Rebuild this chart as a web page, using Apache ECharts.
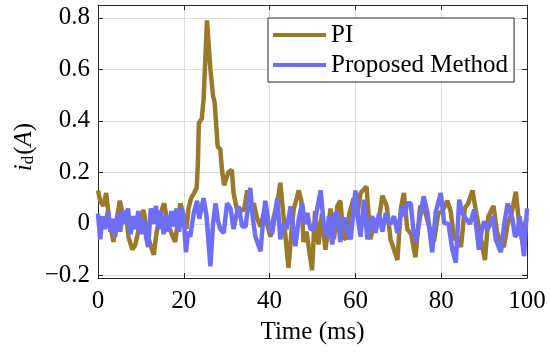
<!DOCTYPE html>
<html>
<head>
<meta charset="utf-8">
<script src="https://cdn.jsdelivr.net/npm/echarts@6/dist/echarts.min.js"></script>
<style>
html,body{margin:0;padding:0;background:#fff;}
#chart{width:550px;height:352px;}
</style>
</head>
<body>
<div id="chart"></div>
<script>
// ---- data (time in ms, current in A) ----
const seriesNames = ['PI', 'Proposed Method'];
const xTicks = [0, 20, 40, 60, 80, 100];
const yTicks = [-0.2, 0, 0.2, 0.4, 0.6, 0.8];

const piData = [
[0,0.13],[0.5,0.09],[1.2,0.07],[1.9,0.12],[2.6,0.02],[3.6,-0.07],[4.3,0.01],[5.1,0.09],[5.8,0.03],[6.5,0.05],
[7.1,-0.05],[8.0,-0.10],[8.7,-0.08],[9.5,-0.02],[10.6,0.055],[11.3,-0.02],[12.0,-0.07],[13.0,-0.12],[13.6,-0.04],[14.4,0.03],
[15.4,0.08],[16.3,0.0],[17.2,-0.04],[18.0,-0.07],[18.6,0.01],[19.2,0.08],[20.0,0.03],[20.6,-0.02],[21.1,0.06],[21.7,0.10],
[22.4,0.12],[23.0,0.14],[23.3,0.24],[23.5,0.39],[24.2,0.41],[24.6,0.48],[25.4,0.79],[26.2,0.60],[26.8,0.50],[27.2,0.47],
[27.9,0.30],[28.5,0.29],[28.9,0.21],[29.4,0.15],[29.8,0.17],[30.4,0.20],[31.2,0.21],[31.6,0.12],[32.2,0.07],[32.8,0.03],
[33.5,0.06],[34.0,0.05],[34.8,0.13],[35.6,0.06],[36.3,0.08],[37.1,0.02],[37.9,-0.01],[38.6,0.04],[39.4,0.0],[40.2,-0.05],
[41.0,0.03],[41.8,0.08],[42.5,0.16],[43.3,0.02],[44.4,-0.17],[45.0,-0.05],[45.6,0.055],[46.8,0.13],[47.4,0.09],[47.9,-0.07],
[48.6,-0.03],[49.2,-0.10],[49.9,-0.18],[50.6,0.05],[51.4,-0.08],[52.2,0.04],[53.0,-0.10],[53.5,-0.04],[54.2,0.06],[55.0,-0.06],
[55.8,0.07],[56.5,0.09],[57.2,-0.05],[57.8,-0.06],[58.6,0.04],[59.6,0.10],[60.4,0.03],[61.2,0.12],[62.6,0.145],[63.5,-0.06],
[64.5,0.02],[65.3,0.0],[66.3,0.11],[67.3,0.07],[68.2,-0.06],[69.0,-0.10],[69.8,-0.14],[70.6,0.06],[71.3,0.12],[72.1,-0.02],
[73.0,-0.04],[74.0,-0.13],[75.1,0.07],[76.0,0.06],[77.2,-0.01],[78.3,-0.07],[79.3,0.04],[80.3,0.05],[81.4,0.09],[82.2,0.05],
[83.0,-0.06],[83.8,-0.05],[84.6,-0.09],[85.5,0.06],[86.3,0.08],[87.3,0.13],[88.2,0.04],[89.3,-0.06],[90.2,-0.14],[91.0,0.03],
[92.2,0.07],[93.0,-0.03],[93.8,-0.07],[94.6,-0.09],[95.5,0.0],[96.4,0.04],[97.4,0.125],[98.1,0.01],[98.8,-0.06],[99.4,0.0],
[100,0.02]
];

const proposedData = [
[0,0.04],[0.5,-0.06],[1.1,0.03],[1.6,-0.02],[2.3,0.05],[2.9,-0.03],[3.5,0.02],[4.0,-0.05],[4.6,0.04],[5.2,-0.03],
[5.8,0.05],[6.4,0.0],[7.0,0.06],[7.6,-0.04],[8.2,0.03],[8.8,-0.02],[9.4,0.05],[10.0,-0.04],[10.6,0.02],[11.2,-0.05],
[11.7,-0.09],[12.3,0.06],[12.9,0.0],[13.5,0.07],[14.1,-0.02],[14.7,0.05],[15.3,-0.04],[15.9,0.03],[16.5,-0.03],[17.1,0.05],
[17.7,-0.01],[18.3,0.06],[18.9,-0.03],[19.5,0.06],[20.0,0.02],[20.5,-0.11],[21.0,-0.03],[21.5,-0.05],[22.3,0.04],[23.1,0.09],
[23.6,0.02],[24.1,0.06],[24.6,0.10],[25.3,0.03],[25.8,-0.08],[26.2,-0.165],[26.8,0.0],[27.4,0.08],[28.0,0.01],[28.5,-0.02],
[29.3,-0.035],[30.1,0.08],[30.9,0.06],[31.6,-0.02],[32.2,0.03],[32.8,0.068],[33.6,-0.01],[34.4,-0.01],[35.0,0.07],[35.5,0.14],
[36.1,0.02],[36.7,-0.05],[37.9,-0.106],[38.5,0.02],[39.0,0.09],[39.8,0.0],[40.6,-0.04],[41.8,0.10],[42.5,-0.06],[43.2,0.0],
[44.0,-0.02],[44.9,0.068],[46.0,-0.087],[46.8,0.02],[47.6,0.08],[48.2,0.0],[48.8,0.043],[49.5,-0.02],[50.3,-0.022],[51.0,0.05],
[51.9,0.13],[52.6,0.0],[53.4,-0.05],[53.8,0.03],[54.6,-0.08],[55.2,0.04],[55.8,0.043],[56.5,-0.07],[57.1,0.02],[57.7,0.017],
[58.4,-0.04],[58.9,-0.06],[60.0,0.13],[60.6,0.02],[61.2,-0.05],[62.0,0.094],[62.8,-0.06],[63.4,0.0],[63.9,0.03],[64.7,-0.035],
[65.5,0.04],[66.3,-0.03],[67.1,0.043],[67.6,0.01],[68.2,0.0],[69.0,0.03],[69.8,-0.035],[70.9,0.068],[71.5,0.03],[72.1,0.08],
[72.9,0.08],[73.5,-0.02],[74.1,-0.07],[75.0,0.02],[75.9,0.107],[76.8,0.043],[77.9,-0.11],[78.7,0.043],[79.9,0.12],[80.7,0.004],
[81.7,0.0],[82.6,-0.1],[83.4,-0.15],[84.2,0.094],[85.0,0.04],[85.8,0.02],[86.7,0.0],[87.7,0.055],[88.8,-0.1],[89.4,-0.03],
[90.0,0.01],[90.8,-0.02],[91.5,0.0],[92.1,0.03],[92.7,-0.06],[93.9,-0.11],[94.7,0.0],[95.5,0.08],[96.6,0.02],[97.2,-0.05],
[97.7,-0.04],[98.3,0.03],[98.9,-0.07],[99.3,-0.125],[100,0.06]
];

// ---- styling ----
const FONT = 'Liberation Serif';
const AX = '#262626';
const fmtNum = v => (v < 0 ? '\u2212' + Math.abs(v) : String(v));

const chart = echarts.init(document.getElementById('chart'), null, {renderer: 'canvas'});

const baseX = {
  type: 'value', min: xTicks[0], max: xTicks[xTicks.length - 1], interval: 20,
  axisLine: {show: true, onZero: false, lineStyle: {color: AX, width: 1}},
  axisTick: {show: true, inside: true, length: 5, lineStyle: {color: AX}},
  splitLine: {show: false}
};
const baseY = {
  type: 'value', min: -0.21, max: 0.85,
  axisLine: {show: true, onZero: false, lineStyle: {color: AX, width: 1}},
  axisTick: {show: true, inside: true, length: 5, customValues: yTicks, lineStyle: {color: AX}},
  splitLine: {show: false}
};

chart.setOption({
  animation: false,
  backgroundColor: '#fff',
  grid: {left: 98, right: 23, top: 5, bottom: 74, containLabel: false},
  xAxis: [
    Object.assign({}, baseX, {
      position: 'bottom',
      axisLabel: {show: true, margin: 11, fontFamily: FONT, fontSize: 25, color: '#000', formatter: fmtNum},
      splitLine: {show: true, lineStyle: {color: '#dedede', width: 1}},
      name: 'Time (ms)', nameLocation: 'middle', nameGap: 42,
      nameTextStyle: {fontFamily: FONT, fontSize: 25, color: '#000'}
    }),
    Object.assign({}, baseX, {position: 'top', axisLabel: {show: false}})
  ],
  yAxis: [
    Object.assign({}, baseY, {
      position: 'left',
      axisLabel: {show: true, margin: 8, customValues: yTicks, fontFamily: FONT, fontSize: 25, color: '#000', formatter: fmtNum},
      splitLine: {show: true, lineStyle: {color: '#dedede', width: 1}}
    }),
    Object.assign({}, baseY, {position: 'right', axisLabel: {show: false}})
  ],
  legend: {
    show: true, orient: 'vertical', left: 268, top: 18,
    padding: [2, 6, 2, 5], itemGap: 0, itemWidth: 53, itemHeight: 4,
    icon: 'rect',
    backgroundColor: '#fff', borderColor: AX, borderWidth: 1, borderRadius: 0,
    textStyle: {fontFamily: FONT, fontSize: 25, color: '#000', lineHeight: 30},
    data: seriesNames
  },
  series: [
    {
      name: seriesNames[0], type: 'line', data: piData, showSymbol: false, symbol: 'none',
      lineStyle: {color: '#9a7a2a', width: 4.5}, itemStyle: {color: '#9a7a2a'}, z: 2
    },
    {
      name: seriesNames[1], type: 'line', data: proposedData, showSymbol: false, symbol: 'none',
      lineStyle: {color: '#6e6ef8', width: 4.5}, itemStyle: {color: '#6e6ef8'}, z: 3
    }
  ],
  graphic: [
    {
      type: 'text', x: 24, y: 147, rotation: Math.PI / 2,
      style: {
        text: '{i|i}{d|d}{n|(}{a|A}{n|)}',
        align: 'center', verticalAlign: 'middle',
        fill: '#000',
        rich: {
          i: {fontFamily: FONT, fontStyle: 'italic', fontSize: 25, fill: '#000'},
          d: {fontFamily: FONT, fontSize: 17, fill: '#000', padding: [10, 1, 0, 0]},
          n: {fontFamily: FONT, fontSize: 25, fill: '#000'},
          a: {fontFamily: FONT, fontStyle: 'italic', fontSize: 25, fill: '#000'}
        }
      }
    }
  ]
});
</script>
</body>
</html>
